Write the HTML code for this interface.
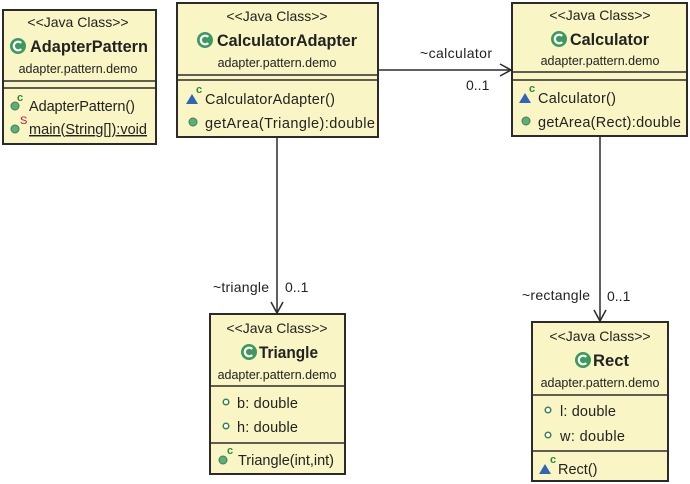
<!DOCTYPE html>
<html><head><style>body{margin:0;background:#fff}svg{display:block}text{font-family:"Liberation Sans",sans-serif;fill:#222}</style></head><body>
<svg width="690" height="484" viewBox="0 0 690 484">
<defs>
<g id="ci"><circle r="8" fill="#3d9a5f"/><path d="M3.2 -3 A4.3 4.3 0 1 0 3.2 3" fill="none" stroke="#fff" stroke-width="2.2"/></g>
<g id="dot"><circle r="4" fill="#5fae7a" stroke="#3a8055" stroke-width="1"/></g>
<g id="odot"><circle r="2.8" fill="#fff" stroke="#3a8055" stroke-width="1.5"/></g>
<g id="tri"><path d="M-6 4 L0 -6 L6 4Z" fill="#2f66b8"/></g>
</defs>
<g stroke="#2b2b2b" stroke-width="2" fill="#f9f5c4">
<rect x="3" y="10" width="153" height="134"/>
<rect x="177" y="3" width="201" height="134"/>
<rect x="512" y="3" width="175" height="133"/>
<rect x="210" y="314" width="135" height="160"/>
<rect x="532" y="322" width="136" height="159"/>
</g>
<g stroke="#2b2b2b" stroke-width="1.6">
<line x1="3" y1="81" x2="156" y2="81"/><line x1="3" y1="88" x2="156" y2="88"/>
<line x1="177" y1="75" x2="378" y2="75"/><line x1="177" y1="80" x2="378" y2="80"/>
<line x1="512" y1="72" x2="687" y2="72"/><line x1="512" y1="80" x2="687" y2="80"/>
<line x1="210" y1="386" x2="345" y2="386"/><line x1="210" y1="443" x2="345" y2="443"/>
<line x1="532" y1="395" x2="668" y2="395"/><line x1="532" y1="451" x2="668" y2="451"/>
</g>
<g stroke="#2b2b2b" stroke-width="1.5" fill="none">
<line x1="378" y1="70" x2="511" y2="70"/><path d="M500 64 L511 70 L500 76"/>
<line x1="277" y1="137" x2="277" y2="313"/><path d="M271 302 L277 313 L283 302"/>
<line x1="600" y1="136" x2="600" y2="321"/><path d="M594 310 L600 321 L606 310"/>
</g>
<g font-size="14">
<text x="420" y="58" textLength="72">~calculator</text><text x="466" y="90">0..1</text>
<text x="213" y="292" textLength="56">~triangle</text><text x="285" y="292">0..1</text>
<text x="522" y="300" textLength="68">~rectangle</text><text x="607" y="301">0..1</text>
</g>
<g text-anchor="middle">
<text x="78" y="27" font-size="14">&lt;&lt;Java Class&gt;&gt;</text>
<text x="78" y="73" font-size="12.5">adapter.pattern.demo</text>
<text x="277" y="21" font-size="14">&lt;&lt;Java Class&gt;&gt;</text>
<text x="277" y="67" font-size="12.5">adapter.pattern.demo</text>
<text x="600" y="20" font-size="14">&lt;&lt;Java Class&gt;&gt;</text>
<text x="600" y="65" font-size="12.5">adapter.pattern.demo</text>
<text x="277" y="333" font-size="14">&lt;&lt;Java Class&gt;&gt;</text>
<text x="277" y="379" font-size="12.5">adapter.pattern.demo</text>
<text x="600" y="341" font-size="14">&lt;&lt;Java Class&gt;&gt;</text>
<text x="600" y="387" font-size="12.5">adapter.pattern.demo</text>
</g>
<g font-size="17" font-weight="bold">
<text x="30" y="52" textLength="118" lengthAdjust="spacingAndGlyphs">AdapterPattern</text>
<text x="217" y="46" textLength="140" lengthAdjust="spacingAndGlyphs">CalculatorAdapter</text>
<text x="570" y="45" textLength="79" lengthAdjust="spacingAndGlyphs">Calculator</text>
<text x="259" y="358" textLength="59" lengthAdjust="spacingAndGlyphs">Triangle</text>
<text x="593" y="366" textLength="36" lengthAdjust="spacingAndGlyphs">Rect</text>
</g>
<use href="#ci" x="18" y="46"/><use href="#ci" x="205" y="40"/><use href="#ci" x="559" y="39"/><use href="#ci" x="249" y="352"/><use href="#ci" x="583" y="360"/>
<g font-size="14.5">
<use href="#dot" x="15" y="106"/><text x="17" y="101" font-size="11" font-weight="bold" style="fill:#2a8a3a">c</text>
<text x="29" y="111" textLength="106">AdapterPattern()</text>
<use href="#dot" x="15" y="129"/><text x="20" y="124" font-size="11" style="fill:#c0143c">S</text>
<text x="29" y="134" text-decoration="underline" textLength="118">main(String[]):void</text>
<use href="#tri" x="192" y="100"/><text x="196" y="93" font-size="11" font-weight="bold" style="fill:#2a8a3a">c</text>
<text x="205" y="104" textLength="130">CalculatorAdapter()</text>
<use href="#dot" x="193" y="122"/><text x="205" y="128" textLength="170">getArea(Triangle):double</text>
<use href="#tri" x="525" y="99"/><text x="529" y="92" font-size="11" font-weight="bold" style="fill:#2a8a3a">c</text>
<text x="538" y="103" textLength="78">Calculator()</text>
<use href="#dot" x="526" y="121"/><text x="538" y="127" textLength="143">getArea(Rect):double</text>
<use href="#odot" x="226" y="402"/><text x="237" y="408" textLength="61">b: double</text>
<use href="#odot" x="226" y="426"/><text x="237" y="432" textLength="61">h: double</text>
<use href="#dot" x="223" y="460"/><text x="227" y="454" font-size="11" font-weight="bold" style="fill:#2a8a3a">c</text>
<text x="238" y="465" textLength="96">Triangle(int,int)</text>
<use href="#odot" x="548" y="410"/><text x="560" y="416" textLength="56">l: double</text>
<use href="#odot" x="548" y="435"/><text x="560" y="441" textLength="65">w: double</text>
<use href="#tri" x="545" y="470"/><text x="550" y="463" font-size="11" font-weight="bold" style="fill:#2a8a3a">c</text>
<text x="558" y="474">Rect()</text>
</g>
</svg>
</body></html>
